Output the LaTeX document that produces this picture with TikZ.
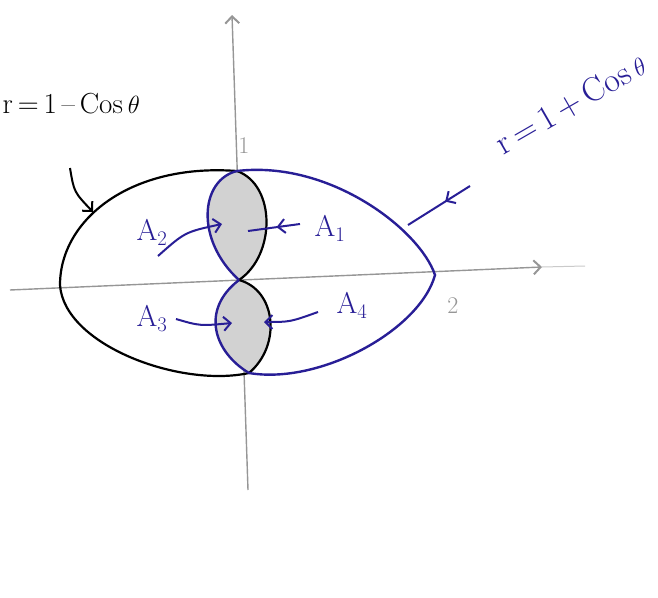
\documentclass[tikz,border=0pt]{standalone}
\usetikzlibrary{arrows.meta,decorations.markings}
\definecolor{pen}{RGB}{40,30,150}
\definecolor{pencil}{RGB}{150,150,150}
\tikzset{
  axis/.style={pencil, line width=1.4pt},
  blk/.style={black, line width=2.2pt},
  blu/.style={pen, line width=2.4pt},
  lbl/.style={pen, font=\fontsize{30}{32}\selectfont, inner sep=0pt},
  tip/.style={-{Straight Barb[length=7pt,width=14pt,line width=2pt]}},
  midtip/.style={postaction={decorate}, decoration={markings, mark=at position #1 with {\arrow{Straight Barb[length=7pt,width=14pt,line width=2pt]}}}},
}
\begin{document}
\begin{tikzpicture}[x=1pt,y=-1pt]
\useasboundingbox (0,0) rectangle (658,597);
% axes
\coordinate (ytop) at (232,15);
\coordinate (ybot) at (248,490);
\coordinate (xl) at (10,290);
\coordinate (xr) at (542,267);
\draw[axis, tip] (ybot) -- (ytop);
\draw[axis, tip] (xl) -- (xr);
\draw[pencil!50, line width=1pt] (xr) -- (585,266);
\node[pencil, font=\fontsize{24}{26}\selectfont] (one) at (244,146) {1};
\node[pencil, font=\fontsize{24}{26}\selectfont] (two) at (453,306) {2};
% key points
\coordinate (O) at (239,280);
\coordinate (T) at (237,171);
\coordinate (B) at (249,373);
% shaded lenses
\fill[gray!35] (O) .. controls (195,240) and (200,180) .. (T)
   .. controls (276,185) and (276,255) .. (O) -- cycle;
\fill[gray!35] (O) .. controls (200,310) and (214,352) .. (B)
   .. controls (282,345) and (276,290) .. (O) -- cycle;
% black curve r = 1 - cos
\draw[blk] (T) .. controls (130,163) and (60,220) .. (60,285)
   .. controls (64,345) and (180,388) .. (B);
\draw[blk] (T) .. controls (276,185) and (276,255) .. (O);
\draw[blk] (B) .. controls (282,345) and (276,290) .. (O);
% blue curve r = 1 + cos
\draw[blu] (T) .. controls (330,160) and (420,230) .. (435,275)
   .. controls (420,330) and (320,385) .. (B);
\draw[blu] (O) .. controls (195,240) and (200,180) .. (T);
\draw[blu] (O) .. controls (200,310) and (214,352) .. (B);
% curve labels
\node[font=\fontsize{29}{31}\selectfont, inner sep=0pt, anchor=east] (lm) at (140,104) {r\,=\,1\,--\,Cos\,$\theta$};
\coordinate (lmS) at (70,168);
\coordinate (lmE) at (93,212);
\draw[black, line width=2pt, tip] (lmS) .. controls (74,192) .. (lmE);
\node[pen, font=\fontsize{34}{36}\selectfont, inner sep=0pt, rotate=30] (lp) at (571,104) {r\,=\,1\,+\,Cos\,$\theta$};
\coordinate (lpS) at (470,186);
\coordinate (lpE) at (408,225);
\draw[pen, line width=2pt, midtip=0.4] (lpS) -- (lpE);
% area labels
\node[lbl] (a2) at (152,232) {A$_2$};
\node[lbl] (a1) at (330,228) {A$_1$};
\node[lbl] (a3) at (152,318) {A$_3$};
\node[lbl] (a4) at (352,305) {A$_4$};
\coordinate (a2s) at (158,256);
\coordinate (a2e) at (222,224);
\draw[pen, line width=2pt, tip] (a2s) .. controls (185,232) .. (a2e);
\coordinate (a1s) at (300,224);
\coordinate (a1e) at (248,231);
\draw[pen, line width=2pt, midtip=0.45] (a1s) -- (a1e);
\coordinate (a3s) at (176,319);
\coordinate (a3e) at (232,323);
\draw[pen, line width=2pt, tip] (a3s) .. controls (200,326) .. (a3e);
\coordinate (a4s) at (318,312);
\coordinate (a4e) at (264,322);
\draw[pen, line width=2pt, tip] (a4s) .. controls (290,322) .. (a4e);
\end{tikzpicture}
\end{document}
